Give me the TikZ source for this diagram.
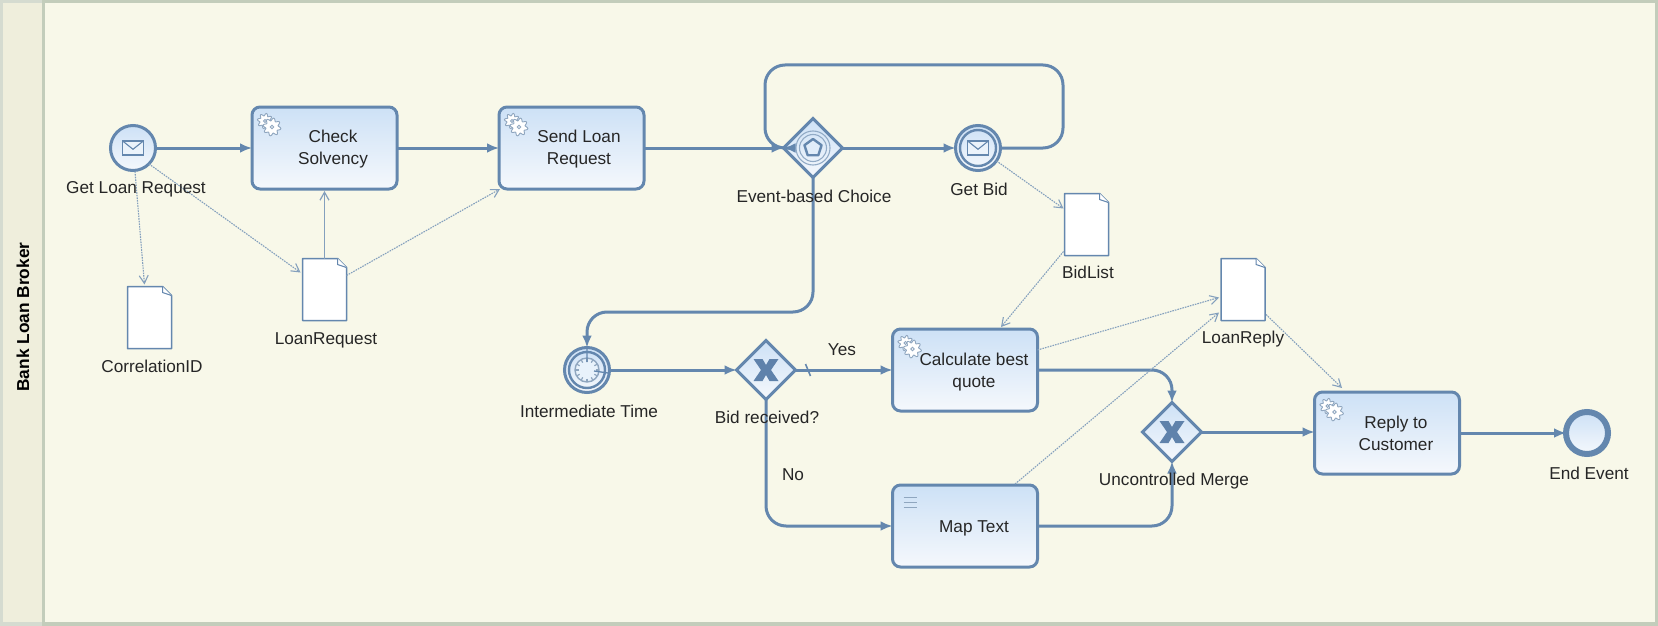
\documentclass[tikz,border=0pt]{standalone}
\usepackage{fontspec}
\setmainfont{Liberation Sans}
\usetikzlibrary{shapes.geometric,arrows.meta,calc}
\definecolor{frameC}{HTML}{C3CDBB}
\definecolor{frameL}{HTML}{D5DBD0}
\definecolor{headC}{HTML}{EFEEDC}
\definecolor{poolC}{HTML}{F8F8E9}
\definecolor{flowC}{HTML}{6487AE}
\definecolor{assocC}{HTML}{84A0BD}
\definecolor{topC}{HTML}{CDE1F6}
\definecolor{botC}{HTML}{F5F8FC}
\definecolor{iconC}{HTML}{8FA6BF}
\definecolor{xC}{HTML}{5F82AB}
\tikzset{
  x=1pt,y=-1pt,
  every node/.style={inner sep=0pt,outer sep=0pt},
  lbl/.style={font=\fontsize{17.2}{22}\selectfont,text=black!85,align=center},
  task/.style={draw=flowC,line width=3pt,rounded corners=8pt,top color=topC,bottom color=botC,minimum width=145pt,minimum height=82pt},
  evt/.style={circle,draw=flowC,top color=topC,bottom color=botC,line width=3pt,minimum size=45pt},
  gate/.style={diamond,aspect=1,draw=flowC,top color=topC,bottom color=botC,line width=3pt,minimum width=59pt,minimum height=59pt},
  docu/.style={minimum width=44pt,minimum height=62pt},
  docline/.style={draw=flowC,line width=1.5pt,fill=white,line join=round},
  flow/.style={draw=flowC,line width=3pt,-{Latex[length=12pt,width=10pt]}},
  loopflow/.style={flow,rounded corners=20pt},
  assoc/.style={draw=assocC,line width=1.1pt,dash pattern=on 1.6pt off 1pt,-{Straight Barb[length=8pt,width=9pt]}},
  assocsolid/.style={draw=assocC,line width=1.2pt,-{Straight Barb[length=8pt,width=9pt]}},
  icon/.style={draw=iconC,line width=.9pt,fill=white},
}
\newcommand{\gearmark}[1]{%
  \begin{scope}[shift={(#1)}]
    \draw[icon] plot[domain=0:360,samples=73,variable=\t,smooth] ({(6.4+1.3*sin(8*\t))*cos(\t)+13},{(6.4+1.3*sin(8*\t))*sin(\t)+14});
    \draw[icon] (13,14) circle (1.5);
    \draw[icon] plot[domain=0:360,samples=73,variable=\t,smooth] ({(7.6+1.4*sin(8*\t))*cos(\t)+20},{(7.6+1.4*sin(8*\t))*sin(\t)+20});
    \draw[icon] (20,20) circle (1.8);
  \end{scope}}
\newcommand{\docmark}[1]{%
  \draw[docline] (#1.north west) -- ($(#1.north east)+(-9,0)$) -- ($(#1.north east)+(0,9)$) -- (#1.south east) -- (#1.south west) -- cycle;
  \draw[draw=flowC,line width=1pt,fill=white] ($(#1.north east)+(-9,0)$) -- ($(#1.north east)+(-9,6)$) -- ($(#1.north east)+(0,9)$);}
\newcommand{\xmark}[1]{%
  \fill[xC] ($(#1)+(-12.5,-11)$) -- ($(#1)+(-3.5,-11)$) -- ($(#1)+(0,-5)$) -- ($(#1)+(3.5,-11)$) -- ($(#1)+(12.5,-11)$) -- ($(#1)+(5,0)$) -- ($(#1)+(12.5,11)$) -- ($(#1)+(3.5,11)$) -- ($(#1)+(0,5)$) -- ($(#1)+(-3.5,11)$) -- ($(#1)+(-12.5,11)$) -- ($(#1)+(-5,0)$) -- cycle;}
\newcommand{\envmark}[2]{%
  \draw[draw=flowC,line width=1.3pt,fill=white!60!topC] ($(#1)+(-#2,-.68*#2)$) rectangle ($(#1)+(#2,.68*#2)$);
  \draw[draw=flowC,line width=1.1pt] ($(#1)+(-#2,-.68*#2)$) -- ($(#1)+(0,.12*#2)$) -- ($(#1)+(#2,-.68*#2)$);}
\begin{document}
\begin{tikzpicture}
\useasboundingbox (0,0) rectangle (1658,626);
% pool
\fill[frameL] (0,0) rectangle (1658,626);
\fill[frameC] (42,0) rectangle (1658,626);
\fill[headC] (3,3) rectangle (42,622);
\fill[poolC] (45,3) rectangle (1655,622);
\node[font=\fontsize{17.3}{19}\selectfont\bfseries,rotate=90,text=black] (poolname) at (23,317) {Bank Loan Broker};

% named bends
\coordinate (loopR) at (1063,148);
\coordinate (loopRT) at (1063,65);
\coordinate (loopLT) at (765,65);
\coordinate (loopL) at (765,148);
\coordinate (downA) at (813,312);
\coordinate (downB) at (587,312);
\coordinate (noA) at (766,526);
\coordinate (mergeA) at (1172,370);
\coordinate (mergeB) at (1172,526);

% shapes
\node[evt] (start) at (133,148) {};
\node[task] (check) at (324.5,148) {};
\node[task] (send) at (571.5,148) {};
\node[gate] (ev) at (813,148) {};
\node[evt] (bid) at (978,148) {};
\node[evt] (timer) at (587,370) {};
\node[gate] (recv) at (766,370) {};
\node[task] (calc) at (965,370) {};
\node[task] (map) at (965,526) {};
\node[gate] (merge) at (1172,432) {};
\node[task] (reply) at (1387,433) {};
\node[circle,draw=flowC,top color=topC,bottom color=botC,line width=6pt,minimum size=42pt] (endev) at (1587,433) {};
\node[docu] (corr) at (149.5,317.5) {};
\node[docu] (lreq) at (324.5,289.5) {};
\node[docu] (blist) at (1086.5,224.5) {};
\node[docu] (lrep) at (1243,289.5) {};
\docmark{corr}\docmark{lreq}\docmark{blist}\docmark{lrep}

% icons
\envmark{start}{10.5}
\draw[draw=flowC,line width=2.4pt] (bid) circle (18);
\envmark{bid}{10.5}
\draw[draw=flowC,line width=2.4pt] (timer) circle (18);
\draw[draw=iconC,line width=1.4pt,fill=white!55!topC] (timer) circle (12);
\foreach \a in {0,30,...,330}{\draw[iconC,line width=1.2pt] ($(timer)+(\a:8.5)$) -- ($(timer)+(\a:11.5)$);}
\draw[flowC,line width=1.3pt] ($(timer)+(0,-8)$) -- (timer) -- ($(timer)+(7,1)$);
\draw[draw=flowC!70,line width=1.1pt] (ev) circle (17);
\draw[draw=flowC!70,line width=1.1pt] (ev) circle (13.5);
\draw[draw=flowC,line width=2.4pt,line join=round,fill=white!40!topC] ($(ev)+(270:9)$) -- ($(ev)+(342:9)$) -- ($(ev)+(54:9)$) -- ($(ev)+(126:9)$) -- ($(ev)+(198:9)$) -- cycle;
\xmark{recv}\xmark{merge}
\gearmark{check.north west}\gearmark{send.north west}\gearmark{calc.north west}\gearmark{reply.north west}
\foreach \yy in {12,17,22}{\draw[iconC,line width=1pt] ($(map.north west)+(11,\yy)$) -- ($(map.north west)+(24,\yy)$);}

% flows
\draw[flow] (start.east) -- (check.west);
\draw[flow] (check.east) -- (send.west);
\draw[flow] (send.east) -- (ev.west);
\draw[flow] (ev.east) -- (bid.west);
\draw[loopflow] (bid.east) -- (loopR) -- (loopRT) -- (loopLT) -- (loopL) -- (ev.west);
\draw[loopflow] (ev.south) -- (downA) -- (downB) -- (timer.north);
\draw[flow] (timer.east) -- (recv.west);
\draw[flow] (recv.east) -- (calc.west);
\draw[draw=flowC,line width=1.6pt] ($(recv.east)+(10,-6)$) -- ($(recv.east)+(15,6)$);
\draw[loopflow] (recv.south) -- (noA) -- (map.west);
\draw[loopflow] (calc.east) -- (mergeA) -- (merge.north);
\draw[loopflow] (map.east) -- (mergeB) -- (merge.south);
\draw[flow] (merge.east) -- (reply.west |- merge.east);
\draw[flow] (reply.east) -- (endev.west);

% associations
\draw[assoc] ($(start.south)+(2,1)$) -- ($(corr.north)+(-5,-2)$);
\draw[assoc] (start.-45) -- ($(lreq.north west)+(-2,14)$);
\draw[assocsolid] (lreq.north) -- ($(check.south)+(0,2)$);
\draw[assoc] ($(lreq.north east)+(0,17)$) -- ($(send.south west)+(1,0)$);
\draw[assoc] (bid.-35) -- ($(blist.north west)+(-1,15)$);
\draw[assoc] ($(blist.south west)+(-1,-4)$) -- ($(calc.north)+(36,-2)$);
\draw[assoc] ($(calc.north east)+(0,21)$) -- ($(lrep.north west)+(-2,39)$);
\draw[assoc] ($(map.north)+(50,-1)$) -- ($(lrep.north west)+(-2,54)$);
\draw[assoc] ($(lrep.north east)+(1,56)$) -- ($(reply.north)+(-45,-4)$);

% labels
\node[lbl] (tstart) at (136,189) {Get Loan Request};
\node[lbl] (tcorr) at (152,366) {CorrelationID};
\node[lbl] (tlreq) at (326,340) {LoanRequest};
\node[lbl] (tcheck) at (333,149.5) {Check\\Solvency};
\node[lbl] (tsend) at (579,149.5) {Send Loan\\Request};
\node[lbl] (tev) at (814,196) {Event-based Choice};
\node[lbl] (tbid) at (979,189) {Get Bid};
\node[lbl] (tblist) at (1088,272) {BidList};
\node[lbl] (ttimer) at (589,411) {Intermediate Time};
\node[lbl] (trecv) at (767,417) {Bid received?};
\node[lbl] (tyes) at (842,350) {Yes};
\node[lbl] (tno) at (793,475) {No};
\node[lbl] (tcalc) at (974,372) {Calculate best\\quote};
\node[lbl] (tmap) at (974,528.5) {Map Text};
\node[lbl] (tmerge) at (1174,481) {Uncontrolled Merge};
\node[lbl] (tlrep) at (1243,339) {LoanReply};
\node[lbl] (treply) at (1396,433) {Reply to\\Customer};
\node[lbl] (tend) at (1589,473) {End Event};
\end{tikzpicture}
\end{document}
